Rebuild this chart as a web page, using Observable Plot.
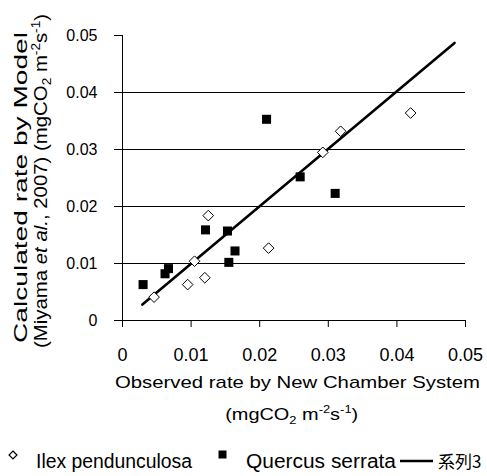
<!DOCTYPE html>
<html><head><meta charset="utf-8">
<script src="https://cdn.jsdelivr.net/npm/d3@7"></script>
<script src="https://cdn.jsdelivr.net/npm/@observablehq/plot@0.6"></script>
<style>
body{margin:0;background:#fff;font-family:"Liberation Sans",Arial,sans-serif;}
#chart{position:relative;width:487px;height:476px;overflow:hidden;background:#fff;}
#chart svg{display:block;}
#legend{position:absolute;left:0;top:440px;width:487px;height:36px;}
</style></head><body><div id="chart"><div id="plot"></div><div id="legend"></div></div>
<script>
// ---- data ----
const ilexObserved  = [0.0046, 0.0095, 0.0105, 0.0120, 0.0125, 0.0213, 0.0292, 0.0318, 0.0420];
const ilexModel     = [0.0041, 0.0063, 0.0104, 0.0075, 0.0184, 0.0127, 0.0295, 0.0332, 0.0364];
const quercusObserved = [0.0030, 0.0062, 0.0067, 0.0121, 0.0153, 0.0155, 0.0164, 0.0210, 0.0259, 0.0310];
const quercusModel    = [0.0063, 0.0082, 0.0091, 0.0159, 0.0157, 0.0102, 0.0122, 0.0353, 0.0252, 0.0223];
const lineObserved = [0.0029, 0.0484];
const lineModel    = [0.0028, 0.0487];
const tickValues = [0, 0.01, 0.02, 0.03, 0.04, 0.05];
const gridValues = [0.01, 0.02, 0.03, 0.04];
const seriesNames = ["Ilex pendunculosa", "Quercus serrata", "系列3"];

const ilex = ilexObserved.map((x, i) => ({x, y: ilexModel[i]}));
const quercus = quercusObserved.map((x, i) => ({x, y: quercusModel[i]}));
const fit = lineObserved.map((x, i) => ({x, y: lineModel[i]}));
const fmt = d => d === 0 ? "0" : String(+d.toFixed(2));

const W = 487, H = 440;
const FONT = "'Liberation Sans', Arial, sans-serif";
const plot = Plot.plot({
  width: W, height: H,
  marginLeft: 122, marginRight: 22, marginTop: 35, marginBottom: H - 320,
  x: {domain: [0, 0.05]},
  y: {domain: [0, 0.05]},
  style: {fontFamily: FONT, background: "white", color: "black", overflow: "visible"},
  marks: [
    Plot.gridY(gridValues, {stroke: "black", strokeOpacity: 1, strokeWidth: 1}),
    Plot.ruleX([0], {stroke: "black", strokeWidth: 1}),
    Plot.ruleY([0], {stroke: "black", strokeWidth: 1}),
    Plot.axisY({ticks: tickValues, tickSize: 8, tickPadding: 17, fontSize: 16, label: null, tickFormat: fmt}),
    Plot.axisX({ticks: tickValues, tickSize: 7, tickPadding: 21, fontSize: 18, label: null, tickFormat: fmt}),
    Plot.line(fit, {x: "x", y: "y", stroke: "black", strokeWidth: 2.6}),
    Plot.dot(ilex, {x: "x", y: "y", symbol: "diamond2", r: 4.8, stroke: "black", fill: "white", strokeWidth: 1}),
    Plot.dot(quercus, {x: "x", y: "y", symbol: "square", r: 5.1, fill: "black", stroke: "none"})
  ]
});
document.getElementById("plot").appendChild(plot);

// ---- axis titles ----
const svg = d3.select(plot);
const titles = svg.append("g").attr("font-family", FONT).attr("fill", "black");

// x title
titles.append("text").attr("x", 297.5).attr("y", 388).attr("font-size", 17)
  .attr("text-anchor", "middle").attr("textLength", 365).attr("lengthAdjust", "spacingAndGlyphs")
  .text("Observed rate by New Chamber System");
const xt2 = titles.append("text").attr("x", 291.7).attr("y", 420).attr("font-size", 17)
  .attr("text-anchor", "middle").attr("textLength", 133).attr("lengthAdjust", "spacingAndGlyphs");
xt2.append("tspan").text("(mgCO");
xt2.append("tspan").attr("font-size", 11).attr("dy", 4).text("2");
xt2.append("tspan").attr("dy", -4).text(" m");
xt2.append("tspan").attr("font-size", 11).attr("dy", -7).text("-2");
xt2.append("tspan").attr("dy", 7).text("s");
xt2.append("tspan").attr("font-size", 11).attr("dy", -7).text("-1");
xt2.append("tspan").attr("dy", 7).text(")");

// y title
titles.append("text").attr("transform", "translate(27,187.5) rotate(-90)").attr("font-size", 18)
  .attr("text-anchor", "middle").attr("textLength", 311).attr("lengthAdjust", "spacingAndGlyphs")
  .text("Calculated rate by Model");
const yt2 = titles.append("text").attr("transform", "translate(46.5,181) rotate(-90)").attr("font-size", 18)
  .attr("text-anchor", "middle").attr("textLength", 334).attr("lengthAdjust", "spacingAndGlyphs");
yt2.append("tspan").text("(Miyama ");
yt2.append("tspan").attr("font-style", "italic").text("et al.");
yt2.append("tspan").text(", 2007) (mgCO");
yt2.append("tspan").attr("font-size", 12).attr("dy", 4).text("2");
yt2.append("tspan").attr("dy", -4).text(" m");
yt2.append("tspan").attr("font-size", 12).attr("dy", -7).text("-2");
yt2.append("tspan").attr("dy", 7).text("s");
yt2.append("tspan").attr("font-size", 12).attr("dy", -7).text("-1");
yt2.append("tspan").attr("dy", 7).text(")");

// ---- legend ----
const lg = d3.select("#legend").append("svg").attr("width", 487).attr("height", 36)
  .attr("font-family", FONT).attr("font-size", 20);
lg.append("path").attr("d", d3.symbol(d3.symbolDiamond2, 40)()).attr("transform", "translate(13,15)")
  .attr("fill", "white").attr("stroke", "black").attr("stroke-width", 1.2);
lg.append("text").attr("x", 36).attr("y", 28).attr("textLength", 156).attr("lengthAdjust", "spacingAndGlyphs").text(seriesNames[0]);
lg.append("rect").attr("x", 218.5).attr("y", 10.5).attr("width", 8).attr("height", 8).attr("fill", "black");
lg.append("text").attr("x", 246).attr("y", 28).attr("textLength", 150).attr("lengthAdjust", "spacingAndGlyphs").text(seriesNames[1]);
lg.append("line").attr("x1", 400).attr("x2", 433).attr("y1", 21).attr("y2", 21).attr("stroke", "black").attr("stroke-width", 2.6);
lg.append("text").attr("x", 438).attr("y", 28).attr("font-size", 17).attr("font-family", "'Noto Sans CJK JP', " + FONT).text(seriesNames[2]);
</script>
</body></html>
